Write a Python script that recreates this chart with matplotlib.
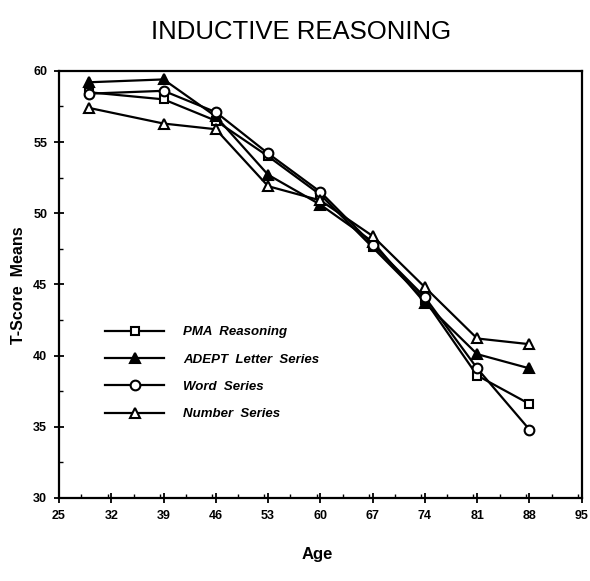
"""
Inductive reasoning: T-score means by age for four measures
"""
import matplotlib
matplotlib.use('Agg')
import matplotlib.pyplot as plt
from matplotlib.ticker import MultipleLocator

ages = [29, 39, 46, 53, 60, 67, 74, 81, 88]

pma_reasoning = [58.5, 58.0, 56.5, 54.0, 51.3, 47.6, 43.9, 38.6, 36.6]
adept_letter = [59.2, 59.4, 56.8, 52.7, 50.6, 48.0, 43.7, 40.1, 39.1]
word_series = [58.4, 58.6, 57.1, 54.2, 51.5, 47.8, 44.1, 39.1, 34.8]
number_series = [57.4, 56.3, 55.9, 51.9, 50.9, 48.4, 44.8, 41.2, 40.8]

x_ticks = [25, 32, 39, 46, 53, 60, 67, 74, 81, 88, 95]
y_ticks = [30, 35, 40, 45, 50, 55, 60]

plt.rcParams['font.family'] = ['Liberation Sans', 'DejaVu Sans']

fig = plt.figure(figsize=(5.9, 5.81), dpi=100)
ax = fig.add_axes([0.100, 0.143, 0.886, 0.735])

# series: (values, label, marker, filled)
series = [
    (pma_reasoning, 'PMA  Reasoning', 's', False),
    (adept_letter, 'ADEPT  Letter  Series', '^', True),
    (word_series, 'Word  Series', 'o', False),
    (number_series, 'Number  Series', '^', False),
]

for values, label, marker, filled in series:
    ax.plot(ages, values, color='black', linewidth=1.6, marker=marker,
            markersize=7 if marker != 's' else 6,
            markerfacecolor='black' if filled else 'white',
            markeredgecolor='black', markeredgewidth=1.5, label=label)

ax.set_xlim(25, 95)
ax.set_ylim(30, 60)
ax.set_xticks(x_ticks)
ax.set_yticks(y_ticks)
ax.xaxis.set_minor_locator(MultipleLocator(3.5))
ax.yaxis.set_minor_locator(MultipleLocator(2.5))
ax.tick_params(which='major', direction='inout', length=7, width=1.3,
               labelsize=9, pad=5)
ax.tick_params(which='minor', direction='in', length=3, width=1.0)
for lab in ax.get_xticklabels() + ax.get_yticklabels():
    lab.set_fontweight('bold')

for spine in ax.spines.values():
    spine.set_linewidth(1.6)

fig.text(0.51, 0.945, 'INDUCTIVE REASONING', ha='center', va='center',
         fontsize=18.5)
fig.text(0.537, 0.045, 'Age', ha='center', va='center', fontsize=12,
         fontweight='bold')
fig.text(0.032, 0.51, 'T-Score  Means', ha='center', va='center',
         rotation=90, fontsize=11.5, fontweight='bold')

leg = ax.legend(loc='upper left', bbox_to_anchor=(0.078, 0.415), frameon=False,
                handlelength=4.5, labelspacing=1.15, handletextpad=1.4,
                borderaxespad=0,
                prop={'weight': 'bold', 'style': 'italic', 'size': 9.5})

fig.savefig('out.png', dpi=100)
